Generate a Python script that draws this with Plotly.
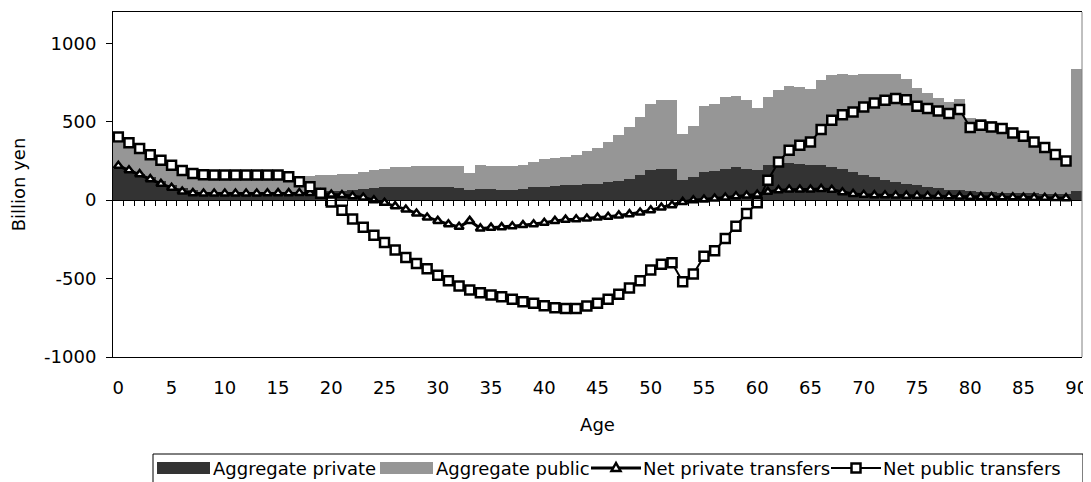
import plotly.graph_objects as go

# ---------------- data ----------------
ages = list(range(91))
line_ages = list(range(90))

agg_private = [202, 191, 170, 149, 120, 98, 78, 62, 52, 48,
               46, 45, 45, 45, 45, 46, 46, 46, 48, 52,
               56, 60, 66, 72, 78, 83, 85, 86, 86, 86,
               85, 84, 80, 62, 74, 70, 68, 68, 74, 81,
               85, 89, 94, 98, 102, 104, 113, 123, 138, 159,
               191, 202, 200, 127, 145, 180, 188, 202, 210, 202,
               192, 222, 234, 234, 228, 224, 222, 212, 196, 178,
               162, 146, 130, 116, 104, 94, 85, 76, 68, 62,
               56, 52, 50, 48, 46, 45, 44, 42, 41, 40,
               58]

agg_public = [362, 338, 305, 272, 240, 210, 185, 168, 158, 152,
              150, 150, 150, 150, 150, 150, 150, 152, 155, 158,
              162, 166, 170, 180, 191, 202, 210, 214, 215, 215,
              215, 217, 218, 174, 223, 218, 217, 218, 227, 244,
              260, 268, 275, 290, 312, 332, 373, 413, 465, 528,
              616, 638, 638, 420, 471, 603, 613, 660, 667, 641,
              588, 658, 705, 730, 722, 709, 764, 796, 803, 796,
              805, 807, 807, 803, 771, 715, 684, 654, 626, 648,
              524, 520, 508, 488, 467, 425, 382, 340, 300, 255,
              834]

net_private = [219, 191, 166, 134, 104, 79, 55, 45, 43, 43,
               43, 43, 43, 43, 44, 45, 45, 46, 46, 42,
               36, 33, 25, 17, 0, -17, -38, -59, -85, -110,
               -132, -153, -170, -132, -180, -175, -172, -166, -159, -153,
               -144, -132, -124, -122, -117, -110, -106, -97, -89, -79,
               -64, -47, -32, -11, 0, 4, 11, 17, 25, 30,
               36, 53, 64, 68, 68, 68, 72, 66, 51, 40,
               35, 32, 31, 30, 29, 28, 27, 26, 25, 24,
               22, 21, 20, 19, 18, 17, 16, 15, 14, 13]

net_public = [403, 367, 329, 290, 255, 223, 190, 170, 162, 161,
              161, 161, 161, 161, 161, 160, 150, 117, 85, 45,
              -11, -64, -120, -172, -223, -270, -318, -365, -403, -437,
              -478, -514, -548, -573, -590, -605, -616, -632, -648, -658,
              -673, -686, -690, -690, -675, -658, -632, -600, -560, -514,
              -446, -408, -399, -520, -471, -357, -323, -244, -166, -85,
              -17, 127, 244, 318, 350, 371, 450, 510, 545, 562,
              594, 620, 637, 648, 641, 599, 584, 569, 552, 578,
              463, 478, 467, 457, 429, 408, 371, 336, 291, 250]

x_tick_values = list(range(0, 91, 5))
x_tick_labels = [str(v) for v in x_tick_values]
y_tick_values = [-1000, -500, 0, 500, 1000]
y_tick_labels = ["-1000", "-500", "0", "500", "1000"]
legend_labels = ["Aggregate private", "Aggregate public",
                 "Net private transfers", "Net public transfers"]

# ---------------- layout geometry (page pixels) ----------------
PAGE_W, PAGE_H = 1091, 482
OFF = 8                      # default body margin of the html page
W, H = PAGE_W - OFF, PAGE_H - OFF
PL, PR, PT, PB = 113, 1082, 12, 357
YMIN, YMAX = -1000, 1200
DARK, LIGHT = "#333333", "#969696"
FONT = "DejaVu Sans"


def fx(px):
    return (px - OFF) / W


def fy(py):
    return 1 - (py - OFF) / H


dom_x = [fx(PL), fx(PR)]
dom_y = [fy(PB), fy(PT)]
zero_pos = dom_y[0] + (dom_y[1] - dom_y[0]) * (0 - YMIN) / (YMAX - YMIN)

fig = go.Figure()
fig.add_trace(go.Bar(x=ages, y=agg_public, width=1.0, name=legend_labels[1],
                     marker=dict(color=LIGHT, line=dict(width=0))))
fig.add_trace(go.Bar(x=ages, y=agg_private, width=1.0, name=legend_labels[0],
                     marker=dict(color=DARK, line=dict(width=0))))
fig.add_trace(go.Scatter(x=line_ages, y=net_private, mode="lines+markers",
                         name=legend_labels[2],
                         line=dict(color="black", width=3),
                         marker=dict(symbol="triangle-up", size=8, color="white",
                                     line=dict(color="black", width=2.5))))
fig.add_trace(go.Scatter(x=line_ages, y=net_public, mode="lines+markers",
                         name=legend_labels[3],
                         line=dict(color="black", width=2),
                         marker=dict(symbol="square", size=9, color="white",
                                     line=dict(color="black", width=2.5))))
# invisible trace so the zero-crossing category axis is drawn
fig.add_trace(go.Scatter(x=[0], y=[0], xaxis="x2", yaxis="y", mode="markers",
                         marker=dict(opacity=0), showlegend=False, hoverinfo="skip"))

fig.update_layout(
    width=W, height=H,
    margin=dict(l=0, r=0, t=0, b=0),
    template="none",
    paper_bgcolor="white", plot_bgcolor="white",
    barmode="overlay", bargap=0,
    showlegend=False,
    font=dict(family=FONT, size=18, color="black"),
    xaxis=dict(domain=dom_x, range=[-0.5, 90.5], anchor="y",
               tickmode="array", tickvals=x_tick_values, ticktext=x_tick_labels,
               ticks="", ticklabelstandoff=14,
               showline=True, linecolor="black", linewidth=1, mirror=True,
               showgrid=False, zeroline=False, automargin=False,
               title=dict(text="Age", standoff=21, font=dict(size=18))),
    xaxis2=dict(domain=dom_x, range=[-0.5, 90.5], overlaying="x",
                anchor="free", position=zero_pos,
                tickmode="array", tickvals=[i + 0.5 for i in range(90)],
                ticks="outside", ticklen=5, tickcolor="black", tickwidth=1,
                showticklabels=False, showline=True, linecolor="black",
                linewidth=1, showgrid=False, zeroline=False),
    yaxis=dict(domain=dom_y, range=[YMIN, YMAX],
               tickmode="array", tickvals=y_tick_values, ticktext=y_tick_labels,
               ticks="outside", ticklen=6, tickcolor="black", tickwidth=1,
               ticklabelstandoff=6,
               showline=True, linecolor="black", linewidth=1,
               showgrid=False, zeroline=False, automargin=False,
               title=dict(text="Billion yen", standoff=16, font=dict(size=18))),
)

shapes = []
# right edge of the plot frame (grey)
shapes.append(dict(type="line", xref="paper", yref="paper",
                   x0=fx(PR), x1=fx(PR), y0=fy(PT), y1=fy(PB),
                   line=dict(color="#808080", width=1)))

# ---------------- custom legend ----------------
LY = 468
box = (153, 1083, 454, 500)
shapes.append(dict(type="rect", xref="paper", yref="paper",
                   x0=fx(box[0]), x1=fx(box[1]), y0=fy(box[2]), y1=fy(box[3]),
                   line=dict(color="black", width=1), fillcolor="rgba(0,0,0,0)"))

items = [
    ("swatch", DARK, 157, 210, 211),
    ("swatch", LIGHT, 380, 433, 434),
    ("tri", None, 591, 641, 641),
    ("sq", None, 831, 881, 881),
]
annotations = []
for (kind, col, a, b, tx), label in zip(items, legend_labels):
    if kind == "swatch":
        shapes.append(dict(type="rect", xref="paper", yref="paper",
                           x0=fx(a), x1=fx(b), y0=fy(LY - 6), y1=fy(LY + 6),
                           line=dict(width=0), fillcolor=col))
    else:
        c = (a + b) / 2
        shapes.append(dict(type="line", xref="paper", yref="paper",
                           x0=fx(a), x1=fx(b), y0=fy(LY), y1=fy(LY),
                           line=dict(color="black", width=3 if kind == "tri" else 2)))
        if kind == "tri":
            path = "M {} {} L {} {} L {} {} Z".format(
                fx(c), fy(LY - 5), fx(c - 4.5), fy(LY + 3), fx(c + 4.5), fy(LY + 3))
            shapes.append(dict(type="path", xref="paper", yref="paper", path=path,
                               fillcolor="white", line=dict(color="black", width=2.5)))
        else:
            shapes.append(dict(type="rect", xref="paper", yref="paper",
                               x0=fx(c - 4.5), x1=fx(c + 4.5),
                               y0=fy(LY - 4.5), y1=fy(LY + 4.5),
                               fillcolor="white", line=dict(color="black", width=2.5)))
    annotations.append(dict(text=label, xref="paper", yref="paper",
                            x=fx(tx), y=fy(LY), xanchor="left", yanchor="middle",
                            showarrow=False, font=dict(family=FONT, size=18, color="black")))

fig.update_layout(shapes=shapes, annotations=annotations)
fig.write_html("out.html")
